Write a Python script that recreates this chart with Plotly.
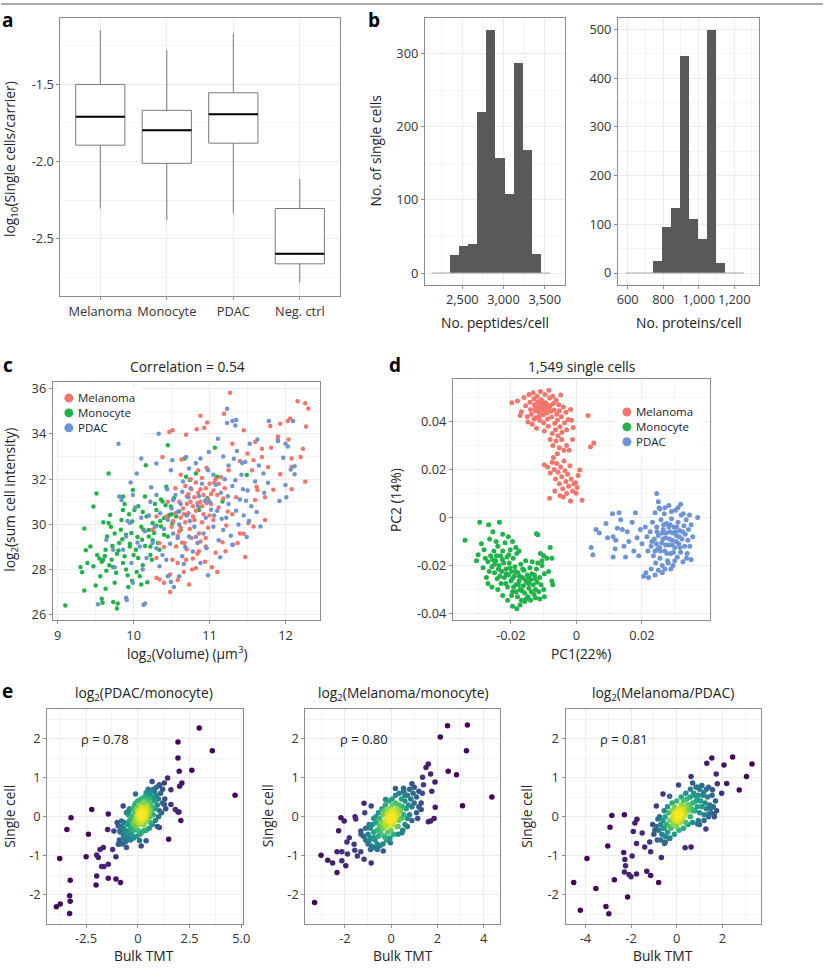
import numpy as np
import plotly.graph_objects as go

W, H = 830, 969

# ---------------- panel a: box summaries ----------------
groups = ["Melanoma", "Monocyte", "PDAC", "Neg. ctrl"]
box_low = [-2.305, -2.382, -2.336, -2.785]
box_q1 = [-1.894, -2.012, -1.881, -2.664]
box_med = [-1.709, -1.797, -1.694, -2.599]
box_q3 = [-1.500, -1.668, -1.554, -2.305]
box_high = [-1.147, -1.277, -1.169, -2.113]

# ---------------- panel b: histograms ----------------
pep_start, pep_width = 2128, 110.5
pep_counts = [0, 0, 25, 38, 40, 220, 332, 158, 108, 288, 169, 26, 0]
prot_start, prot_width = 587, 51.2
prot_counts = [0, 0, 0, 26, 95, 135, 446, 112, 70, 500, 22, 0, 0]

# ---------------- panel c: log2 volume vs log2 intensity ----------------
c_mono = [(9.10, 26.42), (9.35, 29.82), (9.51, 31.37), (9.47, 30.79), (9.67, 32.25), (9.30, 28.12),
          (9.32, 27.89), (9.35, 27.08), (9.37, 28.86), (9.43, 29.03), (9.39, 28.30), (9.47, 28.15),
          (9.50, 27.30), (9.56, 27.71), (9.58, 26.72), (9.59, 26.54), (9.63, 27.16), (9.60, 28.44),
          (9.63, 28.88), (9.65, 29.47), (9.67, 30.06), (9.69, 30.42), (9.71, 28.44), (9.73, 28.12),
          (9.75, 27.42), (9.77, 27.86), (9.73, 26.57), (9.78, 26.28), (9.79, 26.51), (9.81, 29.18),
          (9.83, 29.76), (9.84, 30.20), (9.86, 30.64), (9.86, 31.23), (9.88, 28.59), (9.90, 28.01),
          (9.93, 27.24), (9.95, 29.03), (9.97, 29.62), (9.98, 30.13), (9.99, 31.52), (10.01, 30.64),
          (10.03, 28.88), (10.06, 28.52), (10.08, 27.71), (10.10, 27.35), (10.11, 29.32), (10.13, 29.76),
          (10.15, 31.23), (10.16, 32.62), (10.17, 30.35), (10.20, 29.47), (10.22, 29.03), (10.24, 28.44),
          (10.25, 30.06), (10.27, 29.62), (10.30, 30.64), (10.32, 29.18), (10.34, 28.88), (10.36, 29.91),
          (10.38, 31.01), (10.40, 30.28), (10.43, 31.67), (10.45, 33.50), (10.45, 29.47), (10.47, 30.42),
          (10.49, 30.79), (10.51, 30.06), (10.53, 31.16), (10.56, 30.35), (10.60, 30.57), (10.62, 29.76),
          (10.67, 32.91), (10.69, 32.11), (10.74, 31.96), (10.82, 32.25), (10.86, 30.64), (10.97, 31.16),
          (11.07, 33.39), (11.10, 32.11), (11.17, 31.01), (11.49, 32.18), (9.72, 29.05), (9.80, 28.85),
          (9.85, 29.35), (9.90, 29.55), (9.95, 29.15), (10.00, 28.65), (10.05, 29.45), (10.10, 29.90),
          (10.15, 29.05), (10.20, 29.75), (10.25, 29.30), (10.30, 29.95), (10.35, 30.15), (10.40, 29.55),
          (10.45, 30.35), (10.50, 30.45), (9.62, 28.60), (9.68, 28.20), (9.55, 28.50), (9.58, 28.35),
          (9.52, 28.65), (9.64, 27.95), (9.78, 28.70), (9.86, 28.30), (9.92, 27.75), (9.98, 27.50),
          (10.04, 27.90), (10.12, 28.20), (10.18, 27.45), (10.22, 28.65), (9.88, 30.90), (9.94, 30.45),
          (10.06, 30.80), (10.12, 30.55), (10.28, 30.90), (10.36, 31.10), (10.42, 30.85), (9.75, 29.60),
          (9.70, 29.90), (9.60, 30.10)]
c_mel = [(11.27, 35.82), (12.16, 35.44), (12.26, 35.36), (12.30, 35.12), (12.27, 34.33), (12.06, 34.68),
         (12.03, 34.57), (11.93, 34.45), (11.80, 34.35), (11.45, 34.16), (10.88, 34.80), (10.97, 34.51),
         (10.93, 34.27), (10.83, 34.21), (10.51, 34.16), (10.47, 34.08), (10.69, 33.96), (11.19, 34.89),
         (10.38, 32.98), (10.63, 32.87), (11.30, 33.57), (11.60, 33.64), (11.69, 33.35), (11.81, 33.39),
         (11.90, 33.89), (11.90, 33.75), (12.04, 33.75), (12.23, 33.34), (12.20, 32.98), (12.08, 32.91),
         (12.08, 32.54), (11.93, 32.22), (11.84, 31.53), (11.77, 32.54), (11.69, 32.98), (11.58, 32.84),
         (11.56, 32.40), (11.50, 33.13), (11.62, 31.67), (11.73, 31.20), (11.63, 31.52), (11.60, 31.08),
         (12.26, 31.89), (12.08, 31.55), (11.73, 30.20), (11.58, 29.91), (11.51, 30.06), (11.45, 29.59),
         (11.47, 28.56), (11.37, 29.18), (11.31, 29.10), (11.24, 30.57), (11.21, 28.81), (11.17, 29.21),
         (11.10, 27.90), (11.03, 28.11), (10.95, 29.03), (10.86, 28.81), (10.82, 28.08), (10.77, 28.01),
         (10.73, 27.35), (10.69, 28.44), (10.67, 29.18), (10.60, 29.69), (10.56, 29.03), (10.51, 28.44),
         (10.48, 27.79), (10.48, 27.01), (10.40, 27.42), (10.34, 27.57), (10.30, 27.64), (10.30, 28.52),
         (10.34, 29.18), (10.25, 29.76), (10.30, 30.35), (10.43, 30.35), (10.65, 30.70), (10.70, 30.90),
         (10.72, 30.50), (10.75, 31.00), (10.78, 30.80), (10.80, 31.20), (10.82, 30.60), (10.85, 31.40),
         (10.88, 31.00), (10.90, 30.80), (10.92, 31.30), (10.95, 31.60), (10.98, 31.10), (11.00, 31.80),
         (11.02, 30.90), (11.05, 31.50), (11.08, 32.00), (11.10, 31.30), (11.12, 31.80), (11.15, 32.10),
         (10.60, 31.00), (10.62, 30.30), (10.68, 30.10), (10.74, 29.80), (10.80, 30.20), (10.86, 29.60),
         (10.90, 30.10), (10.55, 30.50), (10.58, 29.50), (10.64, 29.20), (10.70, 28.90), (10.76, 29.40),
         (10.84, 28.70), (10.95, 29.40), (11.00, 30.40), (10.68, 31.70), (10.75, 32.00), (10.55, 31.60),
         (10.62, 32.20), (10.85, 32.40), (10.96, 32.50), (11.05, 30.20), (11.20, 31.60), (11.25, 32.40),
         (11.35, 31.20), (11.40, 32.80), (10.45, 31.00), (10.50, 29.90), (10.40, 29.00), (10.66, 27.90),
         (10.58, 28.30), (10.78, 28.50), (10.72, 31.35), (10.78, 30.35), (10.84, 30.95), (10.88, 31.55),
         (10.92, 30.45), (10.96, 30.95), (11.02, 31.35), (11.06, 31.85), (10.66, 30.45), (10.70, 31.25),
         (10.76, 31.55), (10.82, 31.85), (10.90, 32.05), (11.12, 30.75), (11.18, 31.15), (11.22, 29.95),
         (10.98, 29.85), (10.88, 29.25), (10.62, 29.85), (10.52, 30.15), (11.30, 30.45), (11.08, 28.75),
         (10.94, 28.35), (10.58, 27.55), (11.40, 29.60)]
c_pdac = [(9.80, 33.57), (9.53, 26.47), (9.90, 26.76), (9.91, 26.66), (10.13, 26.45), (10.15, 26.51),
          (9.64, 29.32), (9.73, 28.88), (9.75, 28.11), (9.81, 31.23), (9.84, 31.08), (9.99, 31.30),
          (10.04, 32.25), (10.10, 32.91), (10.23, 31.64), (10.30, 32.69), (10.33, 34.01), (10.51, 32.84),
          (10.52, 31.08), (10.49, 32.40), (10.69, 32.98), (10.73, 32.47), (10.88, 32.91), (10.99, 33.20),
          (11.11, 33.79), (11.23, 35.11), (11.23, 34.48), (11.30, 34.57), (11.35, 34.62), (11.34, 34.37),
          (11.36, 33.25), (11.43, 32.72), (11.47, 32.76), (11.53, 33.57), (11.63, 33.75), (11.71, 32.25),
          (11.77, 31.84), (11.78, 34.57), (11.90, 33.69), (12.00, 33.57), (12.03, 33.45), (12.10, 34.57),
          (11.97, 32.95), (12.07, 32.43), (12.12, 32.57), (12.12, 32.22), (12.00, 31.74), (12.01, 31.20),
          (11.92, 31.04), (11.67, 29.91), (11.49, 29.44), (11.30, 29.10), (11.14, 28.55), (10.98, 27.76),
          (10.84, 29.18), (10.73, 29.47), (10.64, 28.59), (10.60, 27.71), (10.53, 27.24), (10.49, 27.46),
          (10.45, 27.71), (10.43, 28.44), (10.34, 28.15), (10.25, 29.18), (10.17, 28.52), (10.12, 28.01),
          (10.08, 29.03), (9.99, 27.42), (9.97, 28.30), (9.95, 30.06), (9.90, 29.47), (9.86, 28.88),
          (10.45, 30.20), (10.50, 30.70), (10.55, 31.30), (10.60, 30.00), (10.65, 31.90), (10.70, 30.40),
          (10.75, 31.60), (10.80, 29.90), (10.85, 30.80), (10.90, 31.80), (10.95, 30.30), (11.00, 31.00),
          (11.05, 32.20), (11.10, 30.60), (11.15, 31.40), (11.20, 32.00), (11.25, 30.90), (11.30, 31.70),
          (11.35, 30.60), (11.40, 31.10), (11.45, 30.40), (11.50, 31.50), (11.55, 30.80), (11.25, 32.60),
          (11.32, 32.90), (11.18, 33.00), (10.98, 32.40), (10.82, 32.70), (10.62, 30.90), (10.40, 29.80),
          (10.35, 30.50), (10.28, 29.90), (10.20, 30.40), (10.15, 29.70), (10.10, 30.30), (10.05, 29.20),
          (10.58, 29.40), (10.68, 29.00), (10.78, 28.80), (10.92, 29.60), (11.05, 29.90), (11.12, 29.30),
          (11.22, 30.30), (11.38, 30.00), (11.28, 29.50), (10.88, 28.30), (11.60, 31.90), (11.42, 32.20),
          (11.65, 32.60), (11.72, 31.40), (11.06, 30.40), (10.72, 31.20), (10.52, 29.60), (10.30, 31.30),
          (10.22, 31.00), (10.58, 30.55), (10.64, 31.45), (10.74, 30.15), (10.86, 31.25), (10.94, 31.05),
          (11.02, 30.65), (11.08, 31.75), (11.16, 30.25), (11.24, 31.25), (11.34, 31.95), (11.44, 31.55),
          (11.52, 30.15), (10.48, 29.15), (10.38, 28.65), (10.30, 28.95), (10.66, 28.25), (10.82, 29.45),
          (10.96, 28.95), (11.18, 29.75), (10.02, 30.75), (9.92, 30.15), (9.96, 31.85), (11.62, 30.55),
          (11.48, 31.05), (10.44, 31.55)]

# ---------------- panel d: PCA ----------------
d_mel = [(-0.0197, 0.0478), (-0.0180, 0.0485), (-0.0168, 0.0440), (-0.0172, 0.0425), (-0.0160, 0.0500),
         (-0.0155, 0.0465), (-0.0150, 0.0420), (-0.0148, 0.0398), (-0.0145, 0.0512), (-0.0142, 0.0480),
         (-0.0140, 0.0450), (-0.0138, 0.0430), (-0.0135, 0.0388), (-0.0132, 0.0520), (-0.0130, 0.0495),
         (-0.0128, 0.0470), (-0.0126, 0.0445), (-0.0124, 0.0415), (-0.0122, 0.0372), (-0.0120, 0.0505),
         (-0.0118, 0.0482), (-0.0116, 0.0460), (-0.0114, 0.0438), (-0.0112, 0.0405), (-0.0110, 0.0525),
         (-0.0108, 0.0490), (-0.0106, 0.0468), (-0.0104, 0.0450), (-0.0102, 0.0428), (-0.0100, 0.0395),
         (-0.0098, 0.0360), (-0.0096, 0.0512), (-0.0094, 0.0478), (-0.0092, 0.0455), (-0.0090, 0.0435),
         (-0.0088, 0.0410), (-0.0086, 0.0380), (-0.0084, 0.0530), (-0.0082, 0.0498), (-0.0080, 0.0465),
         (-0.0078, 0.0442), (-0.0076, 0.0418), (-0.0074, 0.0350), (-0.0072, 0.0505), (-0.0070, 0.0475),
         (-0.0068, 0.0448), (-0.0066, 0.0392), (-0.0064, 0.0365), (-0.0062, 0.0488), (-0.0060, 0.0430),
         (-0.0058, 0.0405), (-0.0056, 0.0340), (-0.0054, 0.0470), (-0.0052, 0.0445), (-0.0050, 0.0378),
         (-0.0048, 0.0510), (-0.0046, 0.0420), (-0.0044, 0.0355), (-0.0040, 0.0460), (-0.0036, 0.0395),
         (-0.0032, 0.0438), (-0.0030, 0.0365), (-0.0025, 0.0408), (-0.0018, 0.0450), (-0.0015, 0.0405),
         (-0.0010, 0.0375), (0.0035, 0.0425), (0.0043, 0.0295), (0.0053, 0.0310), (-0.0125, 0.0460),
         (-0.0110, 0.0475), (-0.0095, 0.0440), (-0.0100, 0.0460), (-0.0115, 0.0420), (-0.0085, 0.0455),
         (-0.0120, 0.0450), (-0.0105, 0.0485), (-0.0090, 0.0470), (-0.0130, 0.0410),
         (-0.0080, 0.0325), (-0.0072, 0.0300), (-0.0062, 0.0318), (-0.0052, 0.0290), (-0.0045, 0.0325),
         (-0.0038, 0.0280), (-0.0030, 0.0300), (-0.0022, 0.0280), (-0.0012, 0.0325), (-0.0098, 0.0220),
         (-0.0088, 0.0210), (-0.0080, 0.0185), (-0.0074, 0.0230), (-0.0068, 0.0200), (-0.0064, 0.0160),
         (-0.0060, 0.0225), (-0.0056, 0.0188), (-0.0052, 0.0140), (-0.0048, 0.0210), (-0.0045, 0.0170),
         (-0.0042, 0.0120), (-0.0038, 0.0235), (-0.0035, 0.0195), (-0.0032, 0.0150), (-0.0030, 0.0100),
         (-0.0027, 0.0180), (-0.0024, 0.0130), (-0.0020, 0.0215), (-0.0016, 0.0160), (-0.0012, 0.0110),
         (-0.0008, 0.0140), (-0.0003, 0.0145), (0.0002, 0.0125), (-0.0001, 0.0101), (0.0017, 0.0072),
         (-0.0082, 0.0080), (-0.0066, 0.0110), (-0.0050, 0.0090), (-0.0040, 0.0085), (-0.0018, 0.0068),
         (-0.0058, 0.0265), (-0.0070, 0.0250), (0.0010, 0.0198), (0.0005, 0.0175)]
d_mono = [(-0.0340, -0.0095), (-0.0295, -0.0020), (-0.0268, -0.0030), (-0.0235, -0.0020), (-0.0300, -0.0155),
          (-0.0305, -0.0180), (-0.0290, -0.0110), (-0.0282, -0.0135), (-0.0278, -0.0170), (-0.0285, -0.0210),
          (-0.0275, -0.0250), (-0.0270, -0.0275), (-0.0265, -0.0090), (-0.0255, -0.0060), (-0.0245, -0.0100),
          (-0.0225, -0.0070), (-0.0208, -0.0080), (-0.0195, -0.0100), (-0.0185, -0.0125), (-0.0175, -0.0140),
          (-0.0122, -0.0068), (-0.0118, -0.0072), (-0.0080, -0.0125), (-0.0110, -0.0150), (-0.0100, -0.0160),
          (-0.0075, -0.0170), (-0.0090, -0.0170), (-0.0105, -0.0200), (-0.0098, -0.0235), (-0.0085, -0.0225),
          (-0.0075, -0.0265), (-0.0072, -0.0280), (-0.0100, -0.0300), (-0.0098, -0.0330), (-0.0112, -0.0340),
          (-0.0125, -0.0335), (-0.0140, -0.0345), (-0.0158, -0.0350), (-0.0172, -0.0365), (-0.0182, -0.0380),
          (-0.0195, -0.0370), (-0.0210, -0.0345), (-0.0225, -0.0325), (-0.0240, -0.0300), (-0.0258, -0.0290),
          (-0.0270, -0.0185), (-0.0262, -0.0160), (-0.0258, -0.0205), (-0.0252, -0.0140), (-0.0250, -0.0230),
          (-0.0246, -0.0180), (-0.0242, -0.0255), (-0.0240, -0.0120), (-0.0236, -0.0200), (-0.0232, -0.0160),
          (-0.0230, -0.0275), (-0.0228, -0.0225), (-0.0225, -0.0140), (-0.0222, -0.0190), (-0.0220, -0.0250),
          (-0.0218, -0.0105), (-0.0215, -0.0215), (-0.0212, -0.0165), (-0.0210, -0.0290), (-0.0208, -0.0240),
          (-0.0205, -0.0190), (-0.0202, -0.0135), (-0.0200, -0.0265), (-0.0198, -0.0225), (-0.0195, -0.0310),
          (-0.0193, -0.0170), (-0.0190, -0.0245), (-0.0188, -0.0205), (-0.0185, -0.0280), (-0.0182, -0.0150),
          (-0.0180, -0.0330), (-0.0178, -0.0230), (-0.0175, -0.0265), (-0.0172, -0.0300), (-0.0170, -0.0195),
          (-0.0168, -0.0345), (-0.0165, -0.0250), (-0.0162, -0.0285), (-0.0160, -0.0220), (-0.0158, -0.0315),
          (-0.0155, -0.0180), (-0.0152, -0.0270), (-0.0150, -0.0240), (-0.0148, -0.0330), (-0.0145, -0.0295),
          (-0.0142, -0.0210), (-0.0140, -0.0260), (-0.0138, -0.0310), (-0.0135, -0.0185), (-0.0132, -0.0280),
          (-0.0130, -0.0320), (-0.0128, -0.0240), (-0.0125, -0.0300), (-0.0122, -0.0215), (-0.0120, -0.0270),
          (-0.0118, -0.0190), (-0.0115, -0.0310), (-0.0112, -0.0250), (-0.0108, -0.0280), (-0.0105, -0.0180),
          (-0.0250, -0.0195), (-0.0238, -0.0215), (-0.0226, -0.0175), (-0.0214, -0.0235), (-0.0203, -0.0210),
          (-0.0196, -0.0255), (-0.0186, -0.0225), (-0.0177, -0.0280), (-0.0166, -0.0305), (-0.0156, -0.0260),
          (-0.0146, -0.0275), (-0.0136, -0.0235), (-0.0216, -0.0275), (-0.0234, -0.0245), (-0.0244, -0.0160),
          (-0.0206, -0.0155), (-0.0192, -0.0290), (-0.0174, -0.0245), (-0.0164, -0.0215), (-0.0154, -0.0340),
          (-0.0266, -0.0225), (-0.0256, -0.0175), (-0.0198, -0.0325), (-0.0184, -0.0310), (-0.0144, -0.0250),
          (-0.0126, -0.0255)]
d_pdac = [(0.0045, -0.0125), (0.0050, -0.0155), (0.0060, -0.0050), (0.0070, -0.0065), (0.0090, -0.0025),
          (0.0095, -0.0085), (0.0110, 0.0015), (0.0112, -0.0080), (0.0120, -0.0095), (0.0112, -0.0165),
          (0.0118, -0.0130), (0.0125, -0.0045), (0.0130, 0.0020), (0.0135, -0.0010), (0.0140, -0.0050),
          (0.0145, -0.0120), (0.0155, -0.0060), (0.0160, -0.0100), (0.0170, -0.0020), (0.0175, -0.0140),
          (0.0180, 0.0020), (0.0185, -0.0085), (0.0190, -0.0160), (0.0195, -0.0050), (0.0200, -0.0110),
          (0.0205, -0.0245), (0.0212, -0.0230), (0.0220, -0.0250), (0.0228, -0.0215), (0.0240, -0.0240),
          (0.0245, 0.0100), (0.0250, 0.0065), (0.0255, 0.0035), (0.0262, -0.0230), (0.0288, -0.0215),
          (0.0318, 0.0055), (0.0345, 0.0010), (0.0350, -0.0175), (0.0370, 0.0000), (0.0355, -0.0080),
          (0.0150, -0.0165), (0.0225, -0.0060), (0.0228, -0.0120), (0.0232, -0.0020), (0.0235, -0.0160),
          (0.0238, -0.0090), (0.0240, 0.0020), (0.0242, -0.0190), (0.0245, -0.0040), (0.0248, -0.0130),
          (0.0250, -0.0075), (0.0252, 0.0040), (0.0255, -0.0170), (0.0258, -0.0010), (0.0260, -0.0105),
          (0.0262, -0.0200), (0.0265, -0.0050), (0.0268, 0.0015), (0.0270, -0.0140), (0.0272, -0.0085),
          (0.0275, -0.0025), (0.0278, -0.0180), (0.0280, -0.0115), (0.0282, 0.0050), (0.0285, -0.0060),
          (0.0288, -0.0150), (0.0290, -0.0005), (0.0292, -0.0095), (0.0295, -0.0200), (0.0298, -0.0040),
          (0.0300, -0.0125), (0.0302, 0.0030), (0.0305, -0.0075), (0.0308, -0.0165), (0.0310, -0.0020),
          (0.0312, -0.0110), (0.0315, -0.0055), (0.0318, -0.0145), (0.0320, 0.0010), (0.0322, -0.0090),
          (0.0325, -0.0185), (0.0328, -0.0035), (0.0330, -0.0120), (0.0332, -0.0070), (0.0335, -0.0010),
          (0.0338, -0.0150), (0.0340, -0.0095), (0.0342, -0.0050), (0.0346, -0.0120), (0.0350, -0.0030),
          (0.0230, -0.0100), (0.0244, -0.0110), (0.0254, -0.0125), (0.0264, -0.0090), (0.0274, -0.0065),
          (0.0284, -0.0090), (0.0294, -0.0065), (0.0304, -0.0100), (0.0314, -0.0080), (0.0324, -0.0060),
          (0.0266, -0.0030), (0.0286, -0.0030), (0.0306, -0.0040), (0.0276, -0.0150), (0.0296, -0.0145),
          (0.0316, -0.0125), (0.0256, -0.0140), (0.0246, -0.0060), (0.0272, -0.0115), (0.0292, -0.0115),
          (0.0302, -0.0060), (0.0282, -0.0040), (0.0262, -0.0065), (0.0310, 0.0040), (0.0290, 0.0025),
          (0.0270, 0.0040), (0.0250, -0.0220), (0.0270, -0.0215), (0.0300, -0.0180), (0.0215, -0.0080),
          (0.0218, -0.0140), (0.0210, -0.0040), (0.0336, -0.0170), (0.0326, 0.0015), (0.0240, -0.0140),
          (0.0280, -0.0190)]

# ---------------- panel e: bulk TMT vs single cell fold changes ----------------
e_pdac_mono = [(2.97, 2.27), (3.60, 1.69), (4.70, 0.55), (1.94, 1.91), (1.94, 1.50), (2.00, 1.16),
               (2.61, 1.19), (2.13, 0.86), (2.02, 0.78), (1.44, 0.99), (1.28, 0.86), (1.60, 0.69),
               (1.04, 0.82), (0.69, 0.90), (-0.11, 0.58), (1.81, 0.18), (1.99, 0.12), (1.94, 0.12),
               (2.08, -0.10), (1.60, 0.31), (1.49, -0.58), (-2.23, 0.18), (-3.23, -0.03), (-3.43, -0.33),
               (-2.39, -0.45), (-1.43, 0.07), (-3.78, -1.07), (-2.50, -1.03), (-1.99, -0.98), (-1.91, -1.05),
               (-1.83, -0.84), (-1.67, -0.79), (-1.43, -1.22), (-1.64, -1.28), (-1.75, -1.28), (-1.06, -1.03),
               (-1.22, -0.84), (-0.94, -0.71), (-1.99, -1.52), (-2.02, -1.75), (-1.43, -1.58), (-1.06, -1.60),
               (-0.84, -1.69), (-3.27, -1.63), (-3.30, -2.03), (-3.27, -2.17), (-3.30, -2.48), (-3.94, -2.31),
               (-3.75, -2.24), (-0.87, -0.69), (-0.63, -0.62), (-0.71, -0.45), (-0.87, -0.37), (-0.95, -0.24),
               (-0.79, -0.11), (-1.16, -0.37), (-1.46, -0.33), (0.40, -0.62), (0.08, -0.61), (0.16, -0.75),
               (-0.55, -0.79), (-0.39, -0.54), (1.04, -0.28), (1.28, 0.31), (0.88, 0.48), (0.40, 0.61),
               (-0.71, 0.27), (-0.47, 0.14), (-0.23, -0.20),
               (-0.70, -0.55), (-0.60, -0.35), (-0.55, -0.50), (-0.50, -0.20), (-0.45, -0.40), (-0.40, -0.10),
               (-0.35, -0.30), (-0.30, -0.45), (-0.30, 0.00), (-0.25, -0.20), (-0.20, -0.35), (-0.20, 0.10),
               (-0.15, -0.10), (-0.10, -0.25), (-0.10, 0.20), (-0.05, 0.00), (0.00, -0.15), (0.00, 0.15),
               (0.00, -0.35), (0.05, 0.05), (0.05, 0.30), (0.10, -0.05), (0.10, -0.20), (0.10, 0.15),
               (0.15, 0.00), (0.15, 0.25), (0.15, -0.15), (0.20, 0.05), (0.20, 0.10), (0.20, -0.05),
               (0.22, 0.00), (0.25, 0.15), (0.25, 0.35), (0.25, -0.10), (0.30, 0.05), (0.30, 0.20),
               (0.30, -0.20), (0.35, 0.10), (0.35, 0.40), (0.40, 0.00), (0.40, 0.25), (0.45, 0.15),
               (0.45, -0.10), (0.50, 0.30), (0.50, 0.05), (0.55, 0.45), (0.55, 0.20), (0.60, 0.00),
               (0.60, 0.35), (0.65, 0.15), (0.70, 0.50), (0.70, 0.25), (0.75, 0.05), (0.80, 0.40),
               (0.85, 0.20), (0.90, 0.55), (0.95, 0.30), (1.00, 0.45), (1.05, 0.15), (1.10, 0.60),
               (-0.10, 0.35), (0.30, -0.35), (0.60, -0.15), (-0.40, 0.20), (0.80, 0.65), (1.20, 0.35),
               (-0.80, -0.25), (-0.65, -0.15), (0.18, 0.02), (0.12, 0.08), (0.24, -0.02), (0.28, 0.08),
               (0.08, -0.08), (0.35, -0.05), (0.05, 0.12), (0.16, -0.06), (0.22, 0.12), (0.30, 0.12),
               (-0.90, -0.60), (-0.85, -0.40), (-0.75, -0.70), (-0.70, -0.30), (-0.60, -0.65), (-0.50, -0.60),
               (-0.45, 0.05), (-0.35, -0.60), (-0.25, 0.20), (-0.20, -0.55), (-0.15, 0.30), (-0.05, -0.50),
               (0.00, 0.40), (0.10, -0.45), (0.15, 0.45), (0.20, -0.40), (0.30, 0.50), (0.40, -0.35),
               (0.45, 0.55), (0.55, -0.30), (0.60, 0.60), (0.70, -0.20), (0.75, 0.70), (0.85, -0.10),
               (0.90, 0.75), (1.00, 0.00), (1.05, 0.80), (1.15, 0.10), (1.20, 0.70), (1.30, 0.45),
               (1.35, 0.20), (-1.00, -0.15), (0.50, 0.70), (-0.55, 0.10), (0.95, -0.25), (0.00, 0.05),
               (0.10, 0.10), (0.35, 0.20), (0.40, 0.10), (-0.10, -0.10), (0.25, 0.00), (0.45, 0.30),
               (-0.20, -0.15), (0.55, 0.10), (0.15, 0.20)]
e_mel_mono = [(2.44, 2.33), (3.30, 2.35), (3.26, 1.69), (2.13, 2.04), (2.47, 1.16), (2.83, 1.07),
              (4.36, 0.50), (3.09, 0.28), (1.91, 0.24), (1.30, 0.18), (1.86, -0.05), (1.71, -0.11),
              (1.61, -0.13), (1.90, 0.89), (1.76, 0.65), (1.61, 1.35), (1.51, 1.26), (1.71, 1.09),
              (1.36, 1.01), (1.40, 0.82), (0.90, 0.84), (0.54, 0.73), (0.19, 0.72), (-0.24, 0.44),
              (-3.03, -0.99), (-3.31, -2.20), (-2.74, -1.12), (-2.53, -1.19), (-2.34, -1.43), (-2.34, -0.90),
              (-2.13, -0.90), (-2.17, -0.03), (-2.03, -0.11), (-2.27, -0.36), (-2.13, -1.13), (-1.96, -1.26),
              (-1.89, -0.96), (-1.91, -0.65), (-1.81, -0.54), (-1.60, -0.71), (-1.57, -0.86), (-1.46, -1.01),
              (-1.31, -0.90), (-1.17, -1.09), (-0.86, -1.19), (-0.89, -0.84), (-1.53, -0.06), (-1.56, 0.00),
              (-1.14, 0.10), (-1.17, 0.34), (-0.86, 0.27), (-1.31, -0.37), (-0.96, -0.62), (-0.60, -0.84),
              (-0.34, -0.88), (-0.03, -0.67), (0.47, -0.41), (-0.24, -0.54), (-0.74, -0.54), (-0.53, -0.37),
              (-1.00, -0.45), (-0.90, -0.30), (-0.85, -0.55), (-0.80, -0.20), (-0.75, -0.40), (-0.70, -0.60),
              (-0.65, -0.15), (-0.60, -0.35), (-0.55, -0.50), (-0.50, -0.05), (-0.50, -0.25), (-0.45, -0.40),
              (-0.40, -0.15), (-0.35, 0.05), (-0.35, -0.30), (-0.30, -0.50), (-0.25, -0.10), (-0.20, 0.10),
              (-0.20, -0.25), (-0.15, -0.40), (-0.10, -0.05), (-0.10, 0.20), (-0.05, -0.20), (0.00, 0.00),
              (0.00, -0.10), (0.00, 0.15), (0.00, -0.35), (0.05, -0.05), (0.05, 0.30), (0.10, 0.05),
              (0.10, -0.20), (0.15, 0.15), (0.15, -0.10), (0.20, 0.00), (0.20, 0.35), (0.25, 0.20),
              (0.25, -0.25), (0.30, 0.05), (0.35, 0.30), (0.35, -0.10), (0.40, 0.15), (0.45, 0.45),
              (0.45, -0.05), (0.50, 0.25), (0.55, 0.05), (0.60, 0.40), (0.60, -0.20), (0.65, 0.20),
              (0.70, 0.55), (0.75, 0.30), (0.80, 0.05), (0.85, 0.45), (0.90, 0.25), (0.95, 0.60),
              (1.00, 0.35), (1.10, 0.50), (-0.05, 0.05), (0.02, -0.02), (-0.08, -0.12), (0.08, 0.08),
              (-0.15, 0.00), (0.12, -0.03), (-0.02, -0.15), (0.05, 0.12), (-0.25, -0.18), (0.25, 0.08),
              (-0.30, 0.15), (0.30, -0.25), (-0.60, -0.70), (0.70, -0.05), (-1.10, -0.60), (1.20, 0.25),
              (-1.20, -0.50), (-1.10, -0.30), (-1.00, -0.70), (-0.95, -0.20), (-0.85, -0.75), (-0.75, -0.05),
              (-0.70, -0.80), (-0.55, 0.10), (-0.50, -0.75), (-0.40, 0.20), (-0.35, -0.70), (-0.25, 0.30),
              (-0.20, -0.60), (-0.10, 0.40), (-0.05, -0.55), (0.05, 0.45), (0.10, -0.45), (0.20, 0.55),
              (0.30, -0.45), (0.35, 0.60), (0.50, -0.35), (0.55, 0.65), (0.70, -0.25), (0.80, 0.70),
              (0.90, -0.10), (1.00, 0.75), (1.10, 0.10), (1.20, 0.65), (1.30, 0.35), (1.35, 0.60),
              (-1.30, -0.45), (0.60, 0.55), (-0.65, 0.00), (1.15, -0.05), (-0.90, -0.55), (-0.10, 0.00),
              (0.10, -0.10), (-0.20, -0.10), (0.20, 0.10), (0.05, 0.00), (-0.05, -0.05), (-0.30, -0.20),
              (0.30, 0.15), (-0.15, 0.05), (0.15, -0.05)]
e_mel_pdac = [(-4.51, -1.69), (-4.22, -2.40), (-3.93, -1.07), (-3.54, -1.84), (-3.10, -2.30), (-2.97, -2.49),
              (-3.02, -0.75), (-2.84, 0.03), (-2.92, -0.27), (-2.73, -1.62), (-2.29, 0.05), (-2.32, -0.92),
              (-2.27, -1.10), (-2.24, -1.26), (-2.29, -1.42), (-2.15, -2.06), (-2.09, -1.48), (-2.00, -1.54),
              (-1.95, -1.01), (-1.90, -0.38), (-1.83, -0.16), (-1.74, -0.07), (-1.76, -0.69), (-1.76, -1.47),
              (-1.31, -1.40), (-1.14, -1.51), (-0.79, -1.69), (-1.51, -0.42), (-1.40, -0.78), (-1.18, -0.65),
              (-1.14, -0.90), (-0.96, -0.35), (-0.67, -1.05), (-0.53, -0.69), (-0.31, -0.56), (-0.89, 0.27),
              (-0.60, 0.58), (-0.31, 0.52), (0.08, 0.81), (0.37, -0.80), (0.63, -0.78), (0.92, -0.19),
              (1.28, -0.32), (1.32, 1.37), (1.54, 1.50), (2.07, 1.32), (2.45, 1.53), (3.30, 1.35),
              (3.06, 1.03), (2.74, 0.68), (2.19, 0.85), (1.97, 0.60), (1.73, 1.09), (1.78, 0.84),
              (1.57, 0.69), (1.64, 0.07), (1.41, 0.07), (1.49, 0.22), (0.63, 1.03), (0.70, 0.86),
              (0.92, 0.75), (1.18, 0.62), (-0.82, -0.06),
              (-0.80, -0.35), (-0.70, -0.20), (-0.65, -0.45), (-0.60, -0.10), (-0.55, -0.30), (-0.50, 0.00),
              (-0.45, -0.20), (-0.40, -0.40), (-0.35, 0.10), (-0.30, -0.10), (-0.25, -0.30), (-0.20, 0.15),
              (-0.20, -0.05), (-0.15, -0.20), (-0.10, 0.05), (-0.10, 0.25), (-0.05, -0.10), (0.00, 0.00),
              (0.00, 0.15), (0.00, -0.25), (0.05, 0.05), (0.05, -0.10), (0.10, 0.20), (0.10, 0.00),
              (0.15, -0.15), (0.15, 0.10), (0.20, 0.30), (0.20, 0.05), (0.25, -0.05), (0.30, 0.20),
              (0.30, 0.40), (0.35, 0.05), (0.40, 0.25), (0.40, -0.15), (0.45, 0.45), (0.50, 0.15),
              (0.55, 0.30), (0.60, 0.00), (0.60, 0.50), (0.65, 0.20), (0.70, 0.35), (0.75, 0.60),
              (0.80, 0.15), (0.85, 0.40), (0.90, 0.25), (0.95, 0.55), (1.00, 0.10), (1.05, 0.40),
              (1.10, 0.25), (1.15, 0.55), (1.20, 0.05), (1.25, 0.35), (1.30, 0.20), (1.35, 0.50),
              (1.45, 0.30), (1.50, 0.10), (-0.05, 0.05), (0.02, -0.03), (0.08, 0.10), (-0.10, -0.05),
              (0.12, 0.02), (-0.02, 0.10), (0.04, -0.12), (0.18, 0.15), (-0.15, 0.00), (-0.30, -0.25),
              (0.30, 0.00), (0.50, 0.30), (0.70, 0.15), (0.90, 0.45), (-0.50, -0.50), (1.00, 0.70),
              (-1.00, -0.45), (-0.90, -0.25), (-0.85, -0.60), (-0.75, 0.00), (-0.70, -0.60), (-0.55, 0.15),
              (-0.50, -0.65), (-0.40, 0.25), (-0.30, -0.55), (-0.20, 0.35), (-0.10, -0.45), (0.00, 0.40),
              (0.10, -0.35), (0.20, 0.50), (0.30, -0.30), (0.40, 0.60), (0.50, -0.20), (0.60, 0.70),
              (0.70, -0.15), (0.85, 0.75), (0.95, -0.10), (1.10, 0.80), (1.20, -0.10), (1.30, 0.70),
              (1.40, 0.00), (1.55, 0.55), (1.60, 0.25), (1.70, 0.40), (1.65, 0.00), (1.40, 0.75),
              (-0.60, -0.30), (0.80, 0.55), (1.00, -0.20), (-1.05, -0.20), (1.75, 0.15), (0.00, 0.05),
              (0.10, 0.05), (-0.05, -0.05), (0.20, 0.10), (0.15, 0.00), (0.30, 0.10), (-0.10, 0.10),
              (0.25, 0.20), (0.05, -0.05), (0.40, 0.10)]
e_titles = ["log<sub>2</sub>(PDAC/monocyte)", "log<sub>2</sub>(Melanoma/monocyte)", "log<sub>2</sub>(Melanoma/PDAC)"]
e_rho = ["ρ = 0.78", "ρ = 0.80", "ρ = 0.81"]

cell_types = ["Melanoma", "Monocyte", "PDAC"]
colors = {"Melanoma": "#F3756C", "Monocyte": "#21B24A", "PDAC": "#6E94D4"}

FONT = "Open Sans, Lato, sans-serif"
GRID = "#ebebeb"
BORDER = "#8c8c8c"
TICK = 12.8
LABEL = 13.8


def px(x):
    return x / W


def py(y):
    return 1 - y / H


def halves(vals):
    step = vals[1] - vals[0]
    return [v - step / 2 for v in vals] + [vals[-1] + step / 2]


def axis(dom, rng, vals, text, anchor, minor=True):
    d = dict(domain=dom, range=rng, tickmode="array", tickvals=vals, ticktext=text,
             showline=True, mirror=True, linecolor=BORDER, linewidth=1,
             ticks="outside", ticklen=3, tickwidth=1, tickcolor=BORDER,
             showgrid=True, gridcolor=GRID, gridwidth=1, zeroline=False,
             tickfont=dict(size=TICK, color="#333333", family=FONT), anchor=anchor)
    if minor:
        d["minor"] = dict(tickmode="array", tickvals=halves(vals), showgrid=True,
                          gridcolor="#f3f3f3", gridwidth=0.6, ticks="")
    return d


fig = go.Figure()

# ---- a: boxes
box_x = list(range(len(groups)))
fig.add_trace(go.Box(x=box_x, q1=box_q1, median=box_med, q3=box_q3, lowerfence=box_low,
                     upperfence=box_high, width=0.74, whiskerwidth=0, fillcolor="white",
                     line=dict(color="#7a7a7a", width=1), boxpoints=False,
                     xaxis="x", yaxis="y", showlegend=False, hoverinfo="skip"))
mx, my = [], []
for i, m in enumerate(box_med):
    mx += [i - 0.37, i + 0.37, None]
    my += [m, m, None]
fig.add_trace(go.Scatter(x=mx, y=my, mode="lines", line=dict(color="black", width=2),
                         xaxis="x", yaxis="y", showlegend=False, hoverinfo="skip"))


# ---- b: histograms
def hist(start, width, counts, xa, ya):
    edges = [start + width * k for k in range(len(counts) + 1)]
    centers = [start + width * (k + 0.5) for k in range(len(counts))]
    fig.add_trace(go.Scatter(x=[edges[0], edges[-1]], y=[0, 0], mode="lines",
                             line=dict(color="#a8a8a8", width=1), xaxis=xa, yaxis=ya,
                             showlegend=False, hoverinfo="skip"))
    fig.add_trace(go.Bar(x=centers, y=counts, width=width, marker=dict(color="#595959", line_width=0),
                         xaxis=xa, yaxis=ya, showlegend=False))


hist(pep_start, pep_width, pep_counts, "x2", "y2")
hist(prot_start, prot_width, prot_counts, "x3", "y3")

# ---- c and d: scatters
for name, pts in [("Monocyte", c_mono), ("Melanoma", c_mel), ("PDAC", c_pdac)]:
    fig.add_trace(go.Scatter(x=[p[0] for p in pts], y=[p[1] for p in pts], mode="markers",
                             marker=dict(color=colors[name], size=4.5), xaxis="x4", yaxis="y4",
                             showlegend=False, name=name))
for name, pts in [("Melanoma", d_mel), ("Monocyte", d_mono), ("PDAC", d_pdac)]:
    fig.add_trace(go.Scatter(x=[p[0] for p in pts], y=[p[1] for p in pts], mode="markers",
                             marker=dict(color=colors[name], size=5), xaxis="x5", yaxis="y5",
                             showlegend=False, name=name))

# ---- e: density-coloured scatters
for k, pts in enumerate([e_pdac_mono, e_mel_mono, e_mel_pdac]):
    X = np.array([p[0] for p in pts])
    Y = np.array([p[1] for p in pts])
    dens = np.exp(-((X[:, None] - X[None, :]) ** 2 + (Y[:, None] - Y[None, :]) ** 2) / (2 * 0.35 ** 2)).sum(1)
    order = np.argsort(dens)
    fig.add_trace(go.Scatter(x=X[order], y=Y[order], mode="markers",
                             marker=dict(color=dens[order], colorscale="Viridis", size=5.5),
                             xaxis=f"x{6 + k}", yaxis=f"y{6 + k}", showlegend=False))

layout = dict(width=W, height=H, margin=dict(l=0, r=0, t=0, b=0), plot_bgcolor="white",
              paper_bgcolor="white", font=dict(family=FONT, color="#222222"), bargap=0)

# domains in pixels -> paper
layout["xaxis"] = axis([px(60), px(342)], [-0.6, 3.6], box_x, groups, "y", minor=False)
layout["yaxis"] = axis([py(295), py(15)], [-2.874, -1.068], [-2.5, -2.0, -1.5], ["-2.5", "-2.0", "-1.5"], "x")
layout["yaxis"]["minor"]["tickvals"] = [-2.75, -2.25, -1.75, -1.25]

bx = [2500, 3000, 3500]
layout["xaxis2"] = axis([px(428), px(569.3)], [2047, 3744], bx, [f"{v:,}" for v in bx], "y2")
by = [0, 100, 200, 300]
layout["yaxis2"] = axis([py(283.7), py(14.7)], [-16.3, 349], by, [str(v) for v in by], "x2")
bx3 = [600, 800, 1000, 1200]
layout["xaxis3"] = axis([px(623), px(765.3)], [546, 1339], bx3, [f"{v:,}" for v in bx3], "y3")
by3 = [0, 100, 200, 300, 400, 500]
layout["yaxis3"] = axis([py(283.7), py(14.7)], [-24.5, 524.5], by3, [str(v) for v in by3], "x3")

cx = [9, 10, 11, 12]
layout["xaxis4"] = axis([px(52.3), px(322.3)], [8.935, 12.457], cx, [str(v) for v in cx], "y4")
cy = [26, 28, 30, 32, 34, 36]
layout["yaxis4"] = axis([py(621), py(381.7)], [25.77, 36.28], cy, [str(v) for v in cy], "x4")

dx = [-0.02, 0, 0.02]
layout["xaxis5"] = axis([px(456.3), px(715.7)], [-0.0377, 0.0407], dx, ["-0.02", "0", "0.02"], "y5")
dy = [-0.04, -0.02, 0, 0.02, 0.04]
layout["yaxis5"] = axis([py(621), py(378.3)], [-0.0428, 0.0577], dy,
                        ["-0.04", "-0.02", "0", "0.02", "0.04"], "x5")

e_xdom = [(46.7, 244.7), (307.3, 504.3), (570, 767.3)]
e_xrng = [[-4.38, 5.1], [-3.71, 4.73], [-4.87, 3.69]]
e_xticks = [[-2.5, 0, 2.5, 5.0], [-2, 0, 2, 4], [-4, -2, 0, 2]]
e_xtext = [["-2.5", "0", "2.5", "5.0"], ["-2", "0", "2", "4"], ["-4", "-2", "0", "2"]]
e_yticks = [-2, -1, 0, 1, 2]
for k in range(3):
    layout[f"xaxis{6 + k}"] = axis([px(e_xdom[k][0]), px(e_xdom[k][1])], e_xrng[k], e_xticks[k],
                                   e_xtext[k], f"y{6 + k}")
    layout[f"yaxis{6 + k}"] = axis([py(926.7), py(710.7)], [-2.75, 2.75], e_yticks,
                                   ["-2", "-1", "0", "1", "2"], f"x{6 + k}")

ann = []


def text(x, y, s, size=LABEL, angle=0, bold=False, anchor="center", xref="paper", yref="paper"):
    if xref == "paper":
        x, y = px(x), py(y)
    ann.append(dict(x=x, y=y, xref=xref, yref=yref, text=f"<b>{s}</b>" if bold else s,
                    showarrow=False, textangle=angle, xanchor=anchor, yanchor="middle", align="left",
                    font=dict(size=size, family=FONT, color="black" if bold else "#222222")))


# panel letters
for s, x, y in [("a", 7, 17), ("b", 377, 17), ("c", 7, 364), ("d", 398, 364), ("e", 7, 692)]:
    text(x, y, s, size=19, bold=True)

text(9, 157, "log<sub>10</sub>(Single cells/carrier)", angle=-90)
text(378, 149, "No. of single cells", angle=-90)
text(499, 321, "No. peptides/cell")
text(695, 321, "No. proteins/cell")

text(188, 366, "Correlation = 0.54")
text(10, 500, "log<sub>2</sub>(sum cell intensity)", angle=-90)
text(188, 655, "log<sub>2</sub>(Volume) (µm<sup>3</sup>)")

text(586, 366, "1,549 single cells")
text(399, 500, "PC2 (14%)", angle=-90)
text(586, 655, "PC1(22%)")

e_title_x = [144, 406, 668]
e_ylab_x = [9, 270, 531]
e_rho_x = [-1.59, -1.17, -2.31]
for k in range(3):
    text(e_title_x[k], 695, e_titles[k])
    text(e_title_x[k], 958, "Bulk TMT")
    text(e_ylab_x[k], 818, "Single cell", angle=-90)
    text(e_rho_x[k], 2.0, e_rho[k], size=13, xref=f"x{6 + k}", yref=f"y{6 + k}")

shapes = [dict(type="line", xref="paper", yref="paper", x0=0, x1=1, y0=py(1), y1=py(1),
               line=dict(color="#8c8c8c", width=1.5))]

# legends (ggplot style keys)
LEG_FONT = 11.5
ROW = LEG_FONT * 1.3


def legend(x0, yc, box):
    shapes.append(dict(type="rect", xref="paper", yref="paper", x0=px(box[0]), x1=px(box[2]),
                       y0=py(box[3]), y1=py(box[1]), fillcolor="white", line_width=0, layer="above"))
    for i, name in enumerate(cell_types):
        cy_ = yc + ROW * (i - 1)
        shapes.append(dict(type="circle", xref="paper", yref="paper", x0=px(x0 - 4.5), x1=px(x0 + 4.5),
                           y0=py(cy_ + 4.5), y1=py(cy_ - 4.5), fillcolor=colors[name], line_width=0,
                           layer="above"))
    text(x0 + 7, yc, "<br>".join(cell_types), size=LEG_FONT, anchor="left")


legend(68.5, 412.5, (56, 387, 142, 438))
legend(632, 426.5, (621, 401, 708, 452))

layout["annotations"] = ann
layout["shapes"] = shapes
fig.update_layout(**layout)

# the default page body margin would shift the figure by 8 px
fig.write_html("out.html", config={"displayModeBar": False},
               post_script="document.body.style.margin='0';")
